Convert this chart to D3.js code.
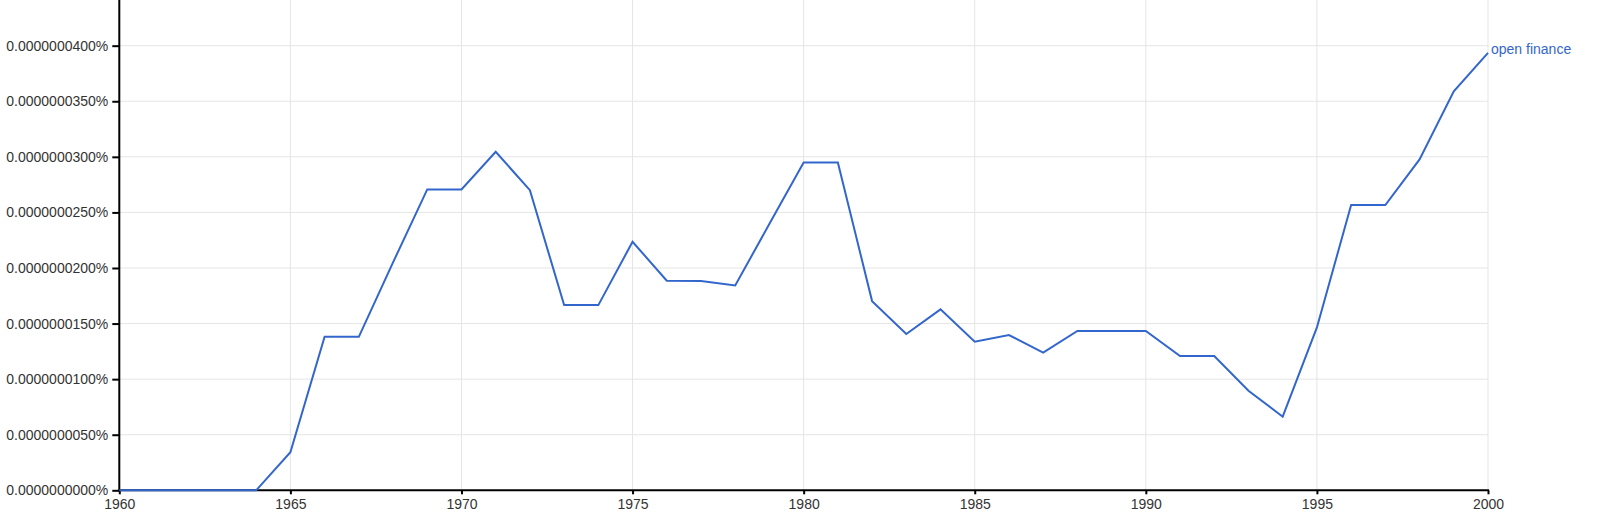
<!DOCTYPE html>
<html>
<head>
<meta charset="utf-8">
<script src="https://cdn.jsdelivr.net/npm/d3@7"></script>
<style>
  html, body { margin: 0; padding: 0; background: #fff; }
  svg { display: block; font-family: "Liberation Sans", Arial, sans-serif; }
</style>
</head>
<body>
<svg id="chart" width="1600" height="517"></svg>
<script>
// Data (values in percent)
const years = d3.range(1960, 2001);
const seriesName = "open finance";
const values = [
  0, 0, 0, 0, 0,
  3.42e-9, 13.81e-9, 13.81e-9, 20.5e-9, 27.07e-9,
  27.07e-9, 30.45e-9, 27.0e-9, 16.66e-9, 16.66e-9,
  22.36e-9, 18.85e-9, 18.82e-9, 18.43e-9, 23.97e-9,
  29.5e-9, 29.5e-9, 17.02e-9, 14.06e-9, 16.28e-9,
  13.37e-9, 13.97e-9, 12.38e-9, 14.33e-9, 14.33e-9,
  14.33e-9, 12.08e-9, 12.08e-9, 8.96e-9, 6.62e-9,
  14.65e-9, 25.66e-9, 25.66e-9, 29.77e-9, 35.9e-9,
  39.35e-9
];
const xTicks = [1960, 1965, 1970, 1975, 1980, 1985, 1990, 1995, 2000];
const yTicks = d3.range(0, 9).map(i => i * 5e-9);

const svg = d3.select("#chart");
const x = d3.scaleLinear().domain([1960, 2000]).range([119.3, 1488]);
const y = d3.scaleLinear().domain([0, 4.5e-8]).range([490.3, -9.9]);

// gridlines
svg.append("g").selectAll("line.h").data(yTicks.slice(1)).join("line")
  .attr("x1", x(1960)).attr("x2", x(2000))
  .attr("y1", d => y(d)).attr("y2", d => y(d))
  .attr("stroke", "#e5e5e5").attr("stroke-width", 1);
svg.append("g").selectAll("line.v").data(xTicks.slice(1)).join("line")
  .attr("x1", d => x(d)).attr("x2", d => x(d))
  .attr("y1", y(4.5e-8) - 20).attr("y2", y(0))
  .attr("stroke", "#e5e5e5").attr("stroke-width", 1);

// axes
const fmt = d => d3.format(".10f")(d) + "%";
const yAxis = d3.axisLeft(y).tickValues(yTicks).tickFormat(fmt).tickSize(7).tickPadding(4);
const gy = svg.append("g").attr("transform", `translate(${x(1960)},0)`).call(yAxis);
gy.select(".domain").remove();
gy.selectAll(".tick line").attr("stroke", "#000").attr("stroke-width", 2);
gy.selectAll(".tick text").attr("font-size", 14).attr("fill", "#333")
  .attr("font-family", "Liberation Sans, Arial, sans-serif");
gy.append("line").attr("x1", 0).attr("x2", 0).attr("y1", -30).attr("y2", y(0) + 1)
  .attr("stroke", "#000").attr("stroke-width", 2);

const xAxis = d3.axisBottom(x).tickValues(xTicks).tickFormat(d3.format("d")).tickSize(4).tickPadding(5);
const gx = svg.append("g").attr("transform", `translate(0,${y(0)})`).call(xAxis);
gx.select(".domain").remove();
gx.selectAll(".tick line").attr("stroke", "#000").attr("stroke-width", 2);
gx.selectAll(".tick text").attr("font-size", 14).attr("fill", "#333")
  .attr("font-family", "Liberation Sans, Arial, sans-serif");
gx.append("line").attr("x1", x(1960) - 1).attr("x2", x(2000) + 1).attr("y1", 0).attr("y2", 0)
  .attr("stroke", "#000").attr("stroke-width", 2);

// series line
const line = d3.line().x((d, i) => x(years[i])).y(d => y(d));
svg.append("path").datum(values).attr("d", line)
  .attr("fill", "none").attr("stroke", "#3366cc").attr("stroke-width", 2)
  .attr("stroke-linejoin", "miter");

// label
svg.append("text")
  .attr("x", x(2000) + 3).attr("y", y(values[values.length - 1]) - 3)
  .attr("dominant-baseline", "middle")
  .attr("font-size", 14).attr("fill", "#3366cc")
  .text(seriesName);
</script>
</body>
</html>
